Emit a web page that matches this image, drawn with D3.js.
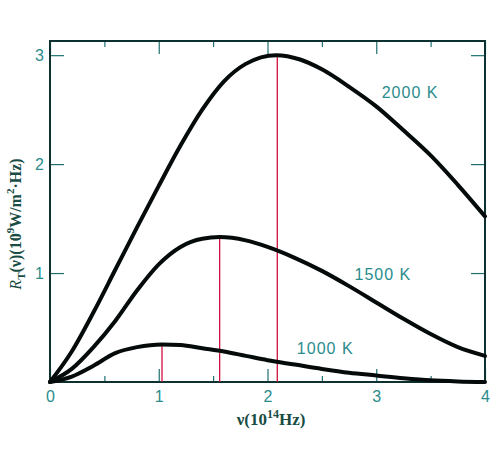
<!DOCTYPE html>
<html>
<head>
<meta charset="utf-8">
<script src="https://cdn.jsdelivr.net/npm/d3@7"></script>
<style>
  body { margin: 0; background: #fff; }
  svg { display: block; }
</style>
</head>
<body>
<svg id="chart" width="500" height="452"></svg>
<script>
// curve samples: frequency (10^14 Hz) and R_T (10^9 W/m^2 Hz)
const nu2000 = [0, 0.2, 0.4, 0.6, 0.8, 1.0, 1.2, 1.4, 1.6, 1.8, 2.08, 2.3, 2.5, 2.75, 3.0, 3.25, 3.5, 3.75, 4.0];
const val2000 = [0, 0.28, 0.64, 1.03, 1.42, 1.80, 2.17, 2.50, 2.76, 2.92, 3.0, 2.96, 2.87, 2.71, 2.53, 2.31, 2.08, 1.81, 1.52];

const nu1500 = [0, 0.2, 0.4, 0.6, 0.8, 1.0, 1.2, 1.4, 1.56, 1.8, 2.0, 2.25, 2.5, 2.75, 3.0, 3.25, 3.5, 3.75, 4.0];
const val1500 = [0, 0.12, 0.32, 0.56, 0.84, 1.08, 1.24, 1.315, 1.33, 1.30, 1.24, 1.14, 1.02, 0.88, 0.73, 0.58, 0.44, 0.32, 0.24];

const nu1000 = [0, 0.2, 0.4, 0.6, 0.8, 1.03, 1.2, 1.4, 1.6, 1.8, 2.0, 2.25, 2.5, 2.75, 3.0, 3.25, 3.5, 3.75, 4.0];
const val1000 = [0, 0.05, 0.15, 0.265, 0.32, 0.345, 0.34, 0.31, 0.28, 0.24, 0.20, 0.16, 0.12, 0.085, 0.06, 0.035, 0.015, 0.005, 0];

const curveLabels = ["2000 K", "1500 K", "1000 K"];
const labelNu = [3.05, 2.8, 2.27];
const labelVal = [2.61, 0.94, 0.26];

// peak markers (red lines)
const peakNu = [1.03, 1.56, 2.09];
const peakVal = [0.345, 1.33, 3.0];

const xTicks = [0, 1, 2, 3, 4];
const xMinor = [0.5, 1.5, 2.5, 3.5];
const yTicks = [1, 2, 3];

const svg = d3.select('#chart');
const mLeft = 50, mRight = 485, mTop = 41, mBottom = 382;

const x = d3.scaleLinear().domain([0, 4]).range([mLeft, mRight]);
const y = d3.scaleLinear().domain([0, 3.13]).range([mBottom, mTop]);

const tickColor = '#1f6f6f';
const labelColor = '#2a8c8c';
const titleColor = '#184c44';

// minor ticks bottom and top
svg.append('g')
  .attr('transform', `translate(0,${mBottom})`)
  .call(d3.axisBottom(x).tickValues(xMinor).tickSize(-6).tickFormat(''))
  .call(g => g.select('.domain').remove());
svg.append('g')
  .attr('transform', `translate(0,${mTop})`)
  .call(d3.axisTop(x).tickValues(xMinor).tickSize(-6).tickFormat(''))
  .call(g => g.select('.domain').remove());

// major ticks with labels
svg.append('g')
  .attr('transform', `translate(0,${mBottom})`)
  .call(d3.axisBottom(x).tickValues(xTicks).tickSize(-13).tickPadding(9).tickFormat(d3.format('d')))
  .call(g => g.select('.domain').remove());
svg.append('g')
  .attr('transform', `translate(0,${mTop})`)
  .call(d3.axisTop(x).tickValues(xTicks).tickSize(-13).tickFormat(''))
  .call(g => g.select('.domain').remove());

svg.append('g')
  .attr('transform', `translate(${mLeft},0)`)
  .call(d3.axisLeft(y).tickValues(yTicks).tickSize(-14).tickPadding(6).tickFormat(d3.format('d')))
  .call(g => g.select('.domain').remove());
svg.append('g')
  .attr('transform', `translate(${mRight},0)`)
  .call(d3.axisRight(y).tickValues(yTicks).tickSize(-14).tickFormat(''))
  .call(g => g.select('.domain').remove());

svg.selectAll('.tick line').attr('stroke', tickColor).attr('stroke-width', 1.2);
svg.selectAll('.tick text')
  .attr('fill', labelColor)
  .style('font-family', '"Liberation Sans", Arial, sans-serif')
  .style('font-size', '16px');

// frame
svg.append('rect')
  .attr('x', mLeft).attr('y', mTop)
  .attr('width', mRight - mLeft).attr('height', mBottom - mTop)
  .attr('fill', 'none')
  .attr('stroke', '#0d3030')
  .attr('stroke-width', 2);

// red peak lines
svg.selectAll('.peak')
  .data(peakNu)
  .enter()
  .append('line')
  .attr('class', 'peak')
  .attr('x1', d => x(d)).attr('x2', d => x(d))
  .attr('y1', (d, i) => y(peakVal[i]))
  .attr('y2', y(0))
  .attr('stroke', '#d01040')
  .attr('stroke-width', 1.3);

// curves
const line = d3.line()
  .x(d => x(d[0]))
  .y(d => y(d[1]))
  .curve(d3.curveMonotoneX);

const series = [
  d3.zip(nu2000, val2000),
  d3.zip(nu1500, val1500),
  d3.zip(nu1000, val1000)
];

svg.selectAll('.curve')
  .data(series)
  .enter()
  .append('path')
  .attr('class', 'curve')
  .attr('d', line)
  .attr('fill', 'none')
  .attr('stroke', '#050a0a')
  .attr('stroke-width', 4)
  .attr('stroke-linejoin', 'round')
  .attr('stroke-linecap', 'round');

// curve labels
svg.selectAll('.clabel')
  .data(curveLabels)
  .enter()
  .append('text')
  .attr('class', 'clabel')
  .attr('x', (d, i) => x(labelNu[i]))
  .attr('y', (d, i) => y(labelVal[i]))
  .attr('fill', labelColor)
  .style('font-family', '"Liberation Sans", Arial, sans-serif')
  .style('font-size', '16px')
  .style('letter-spacing', '1px')
  .text(d => d);

// x axis title
const xt = svg.append('text')
  .attr('x', 271).attr('y', 425)
  .attr('text-anchor', 'middle')
  .attr('fill', titleColor)
  .style('font-family', '"Liberation Serif", "Times New Roman", serif')
  .style('font-weight', 'bold')
  .style('font-size', '17px');
xt.append('tspan').text('ν(10');
xt.append('tspan').attr('dy', -7).style('font-size', '12px').text('14');
xt.append('tspan').attr('dy', 7).text('Hz)');

// y axis title
const yt = svg.append('text')
  .attr('transform', 'translate(21,224) rotate(-90)')
  .attr('text-anchor', 'middle')
  .attr('fill', titleColor)
  .style('font-family', '"Liberation Serif", "Times New Roman", serif')
  .style('font-weight', 'bold')
  .style('font-size', '16px');
yt.append('tspan').style('font-style', 'italic').style('font-weight', 'normal').text('R');
yt.append('tspan').attr('dy', 4).style('font-size', '11px').text('T');
yt.append('tspan').attr('dy', -4).text('(ν)(10');
yt.append('tspan').attr('dy', -7).style('font-size', '11px').text('9');
yt.append('tspan').attr('dy', 7).text('W/m');
yt.append('tspan').attr('dy', -7).style('font-size', '11px').text('2');
yt.append('tspan').attr('dy', 7).text('·Hz)');
</script>
</body>
</html>
